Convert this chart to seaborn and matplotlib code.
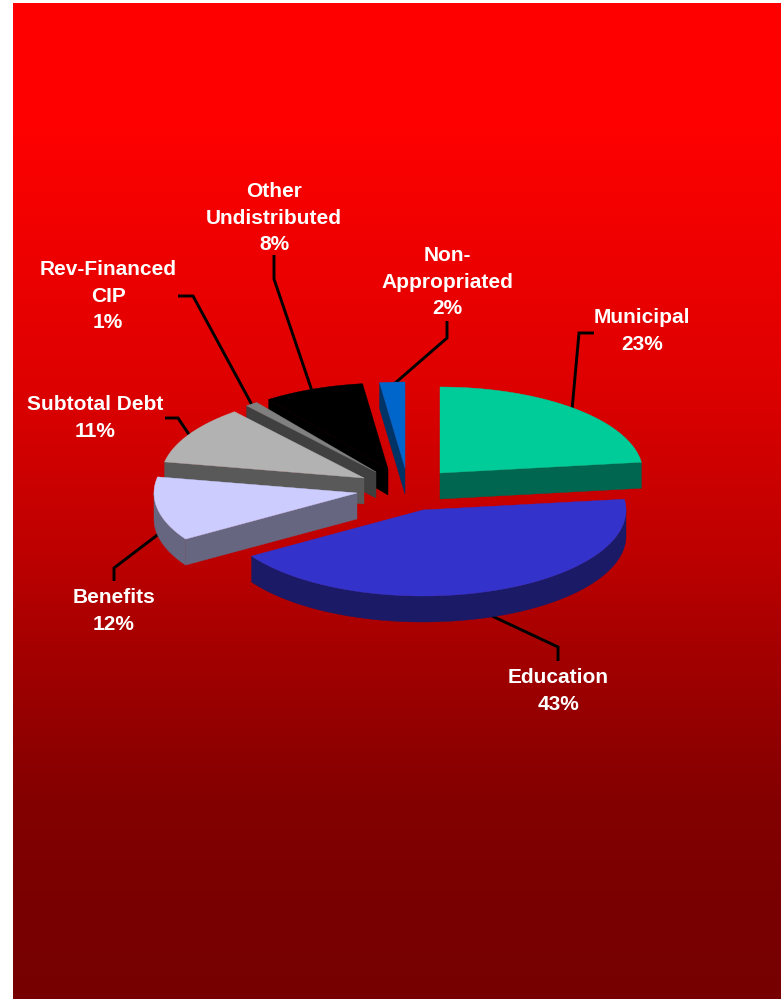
import numpy as np
import matplotlib
matplotlib.use("Agg")
import matplotlib.pyplot as plt
from matplotlib.patches import Polygon
import seaborn as sns

# Budget shares, in percent, clockwise from twelve o'clock
categories = ["Municipal", "Education", "Benefits", "Subtotal Debt",
              "Rev-Financed CIP", "Other Undistributed", "Non-Appropriated"]
shares = [23, 43, 12, 11, 1, 8, 2]
label_lines = ["Municipal\n23%", "Education\n43%", "Benefits\n12%", "Subtotal Debt\n11%",
               "Rev-Financed\nCIP\n1%", "Other\nUndistributed\n8%", "Non-\nAppropriated\n2%"]

# Face colours for the top of each slice and for its darker rim
top_colors = sns.color_palette(["#00cc99", "#3333cc", "#ccccff", "#b2b2b2",
                                "#808080", "#000000", "#0066cc"])
side_colors = sns.color_palette(["#006650", "#1a1a66", "#666680", "#595959",
                                 "#404040", "#000000", "#003366"])

# Exploded slice apexes and the projected ellipse, in figure pixels
apex_x = [440, 423, 357, 364, 376, 388, 405]
apex_y = [473, 510, 493, 478, 472, 469, 468]
radius_x, radius_y, depth = 203, 86, 26

label_x = [642, 558, 114, 95, 108, 274, 447]
label_y = [331, 691, 611, 418, 296, 218, 282]

leader_paths = [
    [(572, 410), (579, 333), (594, 333)],
    [(492, 616), (558, 647), (558, 661)],
    [(160, 533), (114, 568), (114, 581)],
    [(190, 436), (178, 418), (165, 418)],
    [(252, 405), (193, 296), (178, 296)],
    [(312, 391), (274, 279), (274, 255)],
    [(394, 384), (447, 338), (447, 321)],
]

sns.set_theme(style="white")
plt.rcParams["font.family"] = ["Liberation Sans", "DejaVu Sans"]

fig = plt.figure(figsize=(7.81, 9.99), dpi=100, facecolor="white")
ax = fig.add_axes([0, 0, 1, 1])
ax.set_xlim(0, 781)
ax.set_ylim(999, 0)
ax.axis("off")

# Vertical red gradient behind the pie
grad_pos = [3, 120, 370, 550, 660, 800, 900, 999]
grad_val = [255, 255, 224, 190, 162, 132, 122, 118]
rows = np.interp(np.arange(3, 999), grad_pos, grad_val) / 255
gradient = np.zeros((rows.size, 1, 3))
gradient[:, 0, 0] = rows
ax.imshow(gradient, extent=(13, 781, 999, 3), aspect="auto", interpolation="bilinear", zorder=0)
ax.set_xlim(0, 781)
ax.set_ylim(999, 0)


def ellipse_point(cx, cy, theta):
    rad = np.radians(theta)
    return cx + radius_x * np.sin(rad), cy - radius_y * np.cos(rad)


def draw_slice(cx, cy, start, end, top, side, z):
    thetas = np.linspace(start, end, 120)
    xs, ys = ellipse_point(cx, cy, thetas)

    # Radial wall on whichever straight edge faces the viewer
    for theta, visible in ((start, np.sin(np.radians(start)) < 0),
                           (end, np.sin(np.radians(end)) > 0)):
        if visible:
            ex, ey = ellipse_point(cx, cy, theta)
            ax.add_patch(Polygon([(cx, cy), (ex, ey), (ex, ey + depth), (cx, cy + depth)],
                                 closed=True, fc=side, ec=side, lw=0.3, zorder=z))

    # Curved rim on the front half of the ellipse
    lo, hi = max(start, 90), min(end, 270)
    if hi > lo:
        rim = np.linspace(lo, hi, 120)
        rx, ry = ellipse_point(cx, cy, rim)
        outline = np.r_[np.c_[rx, ry], np.c_[rx[::-1], ry[::-1] + depth]]
        ax.add_patch(Polygon(outline, closed=True, fc=side, ec=side, lw=0.3, zorder=z))

    outline = np.r_[[(cx, cy)], np.c_[xs, ys]]
    ax.add_patch(Polygon(outline, closed=True, fc=top, ec=top, lw=0.3, zorder=z + 0.1))


edges = np.r_[0, np.cumsum(shares)] * 3.6

# Back slices first so the nearer ones cover them
paint_order = [6, 5, 4, 3, 0, 2, 1]
for rank, i in enumerate(paint_order):
    draw_slice(apex_x[i], apex_y[i], edges[i], edges[i + 1],
               top_colors[i], side_colors[i], 3 + rank)

for path in leader_paths:
    px, py = zip(*path)
    ax.plot(px, py, color="black", lw=2.1, solid_joinstyle="miter", solid_capstyle="butt", zorder=2)

for text, x, y in zip(label_lines, label_x, label_y):
    ax.text(x, y, text, color="white", fontsize=15, fontweight="bold",
            ha="center", va="center", linespacing=1.52, zorder=20)

fig.savefig("out.png", dpi=100, facecolor="white")
